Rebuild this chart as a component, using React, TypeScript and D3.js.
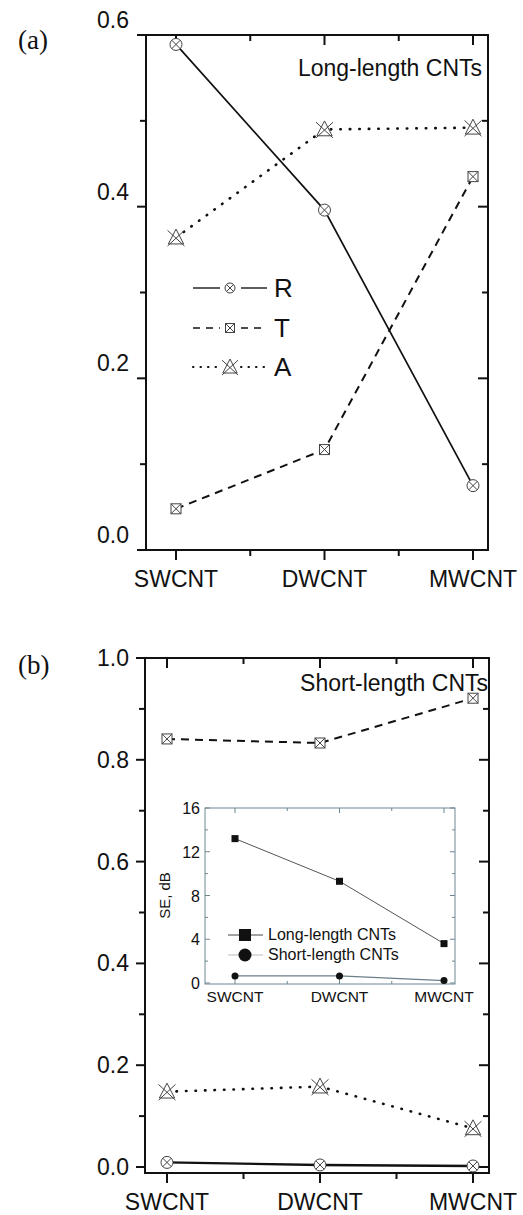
import React from "react";
import * as d3 from "d3";

const categories = ["SWCNT", "DWCNT", "MWCNT"];

// Panel (a) Long-length CNTs
const longR = [0.589, 0.396, 0.075];
const longT = [0.048, 0.117, 0.435];
const longA = [0.364, 0.49, 0.492];

// Panel (b) Short-length CNTs
const shortR = [0.009, 0.004, 0.002];
const shortT = [0.841, 0.833, 0.921];
const shortA = [0.148, 0.158, 0.076];

// Inset: SE, dB
const seLong = [13.2, 9.3, 3.6];
const seShort = [0.65, 0.65, 0.22];

const yTicksA = [0, 0.2, 0.4, 0.6];
const yMinorA = [0.1, 0.3, 0.5];
const yTicksB = [0, 0.2, 0.4, 0.6, 0.8, 1.0];
const yMinorB = [0.1, 0.3, 0.5, 0.7, 0.9];
const yTicksI = [0, 4, 8, 12, 16];
const yMinorI = [2, 6, 10, 14];

const FONT = "'Liberation Sans', Arial, sans-serif";
const INK = "#111";
const MK = "#444";

function CircleX({ x, y, r = 6 }: any) {
  const k = r * 0.7;
  return (
    <g stroke={MK} strokeWidth={1} fill="white">
      <circle cx={x} cy={y} r={r} />
      <line x1={x - k} y1={y - k} x2={x + k} y2={y + k} />
      <line x1={x - k} y1={y + k} x2={x + k} y2={y - k} />
    </g>
  );
}
function SquareX({ x, y, s = 10 }: any) {
  const h = s / 2;
  return (
    <g stroke={MK} strokeWidth={1} fill="white">
      <rect x={x - h} y={y - h} width={s} height={s} />
      <line x1={x - h} y1={y - h} x2={x + h} y2={y + h} />
      <line x1={x - h} y1={y + h} x2={x + h} y2={y - h} />
    </g>
  );
}
function TriX({ x, y, s = 8.5 }: any) {
  return (
    <g stroke={MK} strokeWidth={1} fill="none">
      <path d={`M${x},${y - s}L${x - s * 0.9},${y + s * 0.75}L${x + s * 0.9},${y + s * 0.75}Z`} fill="white" />
      <line x1={x - s} y1={y - s * 0.85} x2={x + s} y2={y + s} />
      <line x1={x + s} y1={y - s * 0.85} x2={x - s} y2={y + s} />
    </g>
  );
}

const styles: any = {
  R: { dash: undefined, w: 1.7, cap: "butt", M: CircleX },
  T: { dash: "8,6", w: 2, cap: "butt", M: SquareX },
  A: { dash: "0.5,9", w: 2.6, cap: "round", M: TriX },
};

function Series({ vals, kind, x, y, w }: any) {
  const st = styles[kind];
  const line = d3.line<number>().x((_, i) => x(i)).y((v) => y(v));
  const M = st.M;
  return (
    <g>
      <path d={line(vals) || ""} fill="none" stroke={INK} strokeWidth={w || st.w} strokeDasharray={st.dash} strokeLinecap={st.cap} />
      {vals.map((v: number, i: number) => (
        <M key={i} x={x(i)} y={y(v)} />
      ))}
    </g>
  );
}

function Frame({ x, y, left, right, top, bottom, majors, minors, labelOffset, fmt }: any) {
  const mids = [0.5, 1.5];
  return (
    <g>
      <g stroke={INK} strokeWidth={2} fill="none">
        <rect x={left} y={top} width={right - left} height={bottom - top} />
        {majors.map((t: number) => (
          <g key={"M" + t}>
            <line x1={left - 9} x2={left} y1={y(t)} y2={y(t)} />
            <line x1={right - 10} x2={right} y1={y(t)} y2={y(t)} />
          </g>
        ))}
        {minors.map((t: number) => (
          <g key={"m" + t}>
            <line x1={left - 6} x2={left} y1={y(t)} y2={y(t)} />
            <line x1={right - 6} x2={right} y1={y(t)} y2={y(t)} />
          </g>
        ))}
        {categories.map((_, i) => (
          <g key={"c" + i}>
            <line x1={x(i)} x2={x(i)} y1={bottom} y2={bottom + 10} />
            <line x1={x(i)} x2={x(i)} y1={top} y2={top + 10} />
          </g>
        ))}
        {mids.map((m) => (
          <g key={"mid" + m}>
            <line x1={x(m)} x2={x(m)} y1={bottom} y2={bottom + 6} />
            <line x1={x(m)} x2={x(m)} y1={top} y2={top + 6} />
          </g>
        ))}
      </g>
      <g fontFamily={FONT} fontSize={23} fill={INK}>
        {majors.map((t: number) => (
          <text key={"l" + t} x={129} y={y(t) + labelOffset} textAnchor="end">
            {fmt(t)}
          </text>
        ))}
        {categories.map((c, i) => (
          <text key={"x" + c} x={x(i)} y={bottom + 37} textAnchor="middle">
            {c}
          </text>
        ))}
      </g>
    </g>
  );
}

export default function App() {
  const fmt = d3.format(".1f");
  // Panel (a)
  const xA = d3.scaleLinear().domain([0, 2]).range([176, 473]);
  const yA = d3.scaleLinear().domain([0, 0.6]).range([550, 35]);
  // Panel (b)
  const xB = d3.scaleLinear().domain([0, 2]).range([167, 473]);
  const yB = d3.scaleLinear().domain([0, 1]).range([1167, 658]);
  // Inset
  const xI = d3.scaleLinear().domain([0, 2]).range([235, 444]);
  const yI = d3.scaleLinear().domain([0, 16]).range([983, 808]);
  const iL = 205, iR = 455, iT = yI(16), iB = 984;
  const inAx = "#6f8792";

  const lineI = d3.line<number>().x((_, i) => xI(i)).y((v) => yI(v));

  const legendRows = [
    { k: "R", y: 288 },
    { k: "T", y: 328 },
    { k: "A", y: 367 },
  ];

  return (
    <svg width={523} height={1215} style={{ position: "absolute", left: 0, top: 0, background: "white" }}>
      <rect width={523} height={1215} fill="white" />
      {/* Panel (a) */}
      <text x={18} y={49} fontFamily="'Liberation Serif', 'Times New Roman', serif" fontSize={27} fill={INK}>(a)</text>
      <Frame x={xA} y={yA} left={146} right={488} top={35} bottom={550} majors={yTicksA} minors={yMinorA} labelOffset={-7} fmt={fmt} />
      <text x={482} y={76} textAnchor="end" fontFamily={FONT} fontSize={23} fill={INK}>Long-length CNTs</text>
      <Series vals={longA} kind="A" x={xA} y={yA} />
      <Series vals={longT} kind="T" x={xA} y={yA} />
      <Series vals={longR} kind="R" x={xA} y={yA} />
      {legendRows.map((r) => {
        const st = styles[r.k];
        const M = st.M;
        const dash = r.k === "A" ? "0.5,7" : r.k === "T" ? "7,6" : undefined;
        return (
          <g key={r.k}>
            <line x1={193} x2={220} y1={r.y} y2={r.y} stroke={INK} strokeWidth={st.w * 0.8} strokeDasharray={dash} strokeLinecap={st.cap} />
            <line x1={241} x2={267} y1={r.y} y2={r.y} stroke={INK} strokeWidth={st.w * 0.8} strokeDasharray={dash} strokeLinecap={st.cap} />
            <M x={230} y={r.y} {...(r.k === "A" ? { s: 8 } : r.k === "R" ? { r: 5 } : { s: 9 })} />
            <text x={274} y={r.y + 9} fontFamily={FONT} fontSize={26} fill={INK}>{r.k}</text>
          </g>
        );
      })}

      {/* Panel (b) */}
      <text x={18} y={674} fontFamily="'Liberation Serif', 'Times New Roman', serif" fontSize={27} fill={INK}>(b)</text>
      <Frame x={xB} y={yB} left={145} right={489} top={658} bottom={1173} majors={yTicksB} minors={yMinorB} labelOffset={8} fmt={fmt} />
      <text x={488} y={691} textAnchor="end" fontFamily={FONT} fontSize={23} fill={INK}>Short-length CNTs</text>
      <Series vals={shortA} kind="A" x={xB} y={yB} />
      <Series vals={shortT} kind="T" x={xB} y={yB} />
      <Series vals={shortR} kind="R" x={xB} y={yB} w={2.4} />

      {/* Inset */}
      <g>
        <rect x={iL} y={iT} width={iR - iL} height={iB - iT} fill="white" stroke={inAx} strokeWidth={1} />
        <g stroke={inAx} strokeWidth={1}>
          {yTicksI.map((t) => (
            <g key={"it" + t}>
              <line x1={iL} x2={iL + 5} y1={yI(t)} y2={yI(t)} />
              <line x1={iR} x2={iR - 5} y1={yI(t)} y2={yI(t)} />
            </g>
          ))}
          {yMinorI.map((t) => (
            <g key={"im" + t}>
              <line x1={iL} x2={iL + 3} y1={yI(t)} y2={yI(t)} />
              <line x1={iR} x2={iR - 3} y1={yI(t)} y2={yI(t)} />
            </g>
          ))}
          {categories.map((_, i) => (
            <g key={"ic" + i}>
              <line x1={xI(i)} x2={xI(i)} y1={iB} y2={iB - 5} />
              <line x1={xI(i)} x2={xI(i)} y1={iT} y2={iT + 5} />
            </g>
          ))}
          {[0.5, 1.5].map((m) => (
            <g key={"imd" + m}>
              <line x1={xI(m)} x2={xI(m)} y1={iB} y2={iB - 3} />
              <line x1={xI(m)} x2={xI(m)} y1={iT} y2={iT + 3} />
            </g>
          ))}
        </g>
        <path d={lineI(seLong) || ""} fill="none" stroke="#555" strokeWidth={1} />
        <path d={lineI(seShort) || ""} fill="none" stroke="#6a7f88" strokeWidth={1.2} />
        {seLong.map((v, i) => (
          <rect key={"sl" + i} x={xI(i) - 3.5} y={yI(v) - 3.5} width={7} height={7} fill={INK} />
        ))}
        {seShort.map((v, i) => (
          <circle key={"ss" + i} cx={xI(i)} cy={yI(v)} r={3.5} fill={INK} />
        ))}
        <g fontFamily={FONT} fill={INK}>
          {yTicksI.map((t) => (
            <text key={"iyl" + t} x={200} y={yI(t) + 6} textAnchor="end" fontSize={16}>{t}</text>
          ))}
          {categories.map((c, i) => (
            <text key={"ixl" + c} x={xI(i)} y={1002} textAnchor="middle" fontSize={15.5}>{c}</text>
          ))}
          <text transform={`translate(170,${yI(8)}) rotate(-90)`} textAnchor="middle" fontSize={15}>SE, dB</text>
        </g>
        {/* inset legend */}
        <line x1={228} x2={263} y1={935} y2={935} stroke="#444" strokeWidth={1} />
        <rect x={239} y={929} width={12} height={12} fill={INK} />
        <text x={268} y={940} fontFamily={FONT} fontSize={16} fill={INK}>Long-length CNTs</text>
        <line x1={228} x2={263} y1={955} y2={955} stroke="#bbb" strokeWidth={1} />
        <circle cx={245} cy={955} r={6.5} fill={INK} />
        <text x={268} y={960} fontFamily={FONT} fontSize={16} fill={INK}>Short-length CNTs</text>
      </g>
    </svg>
  );
}
